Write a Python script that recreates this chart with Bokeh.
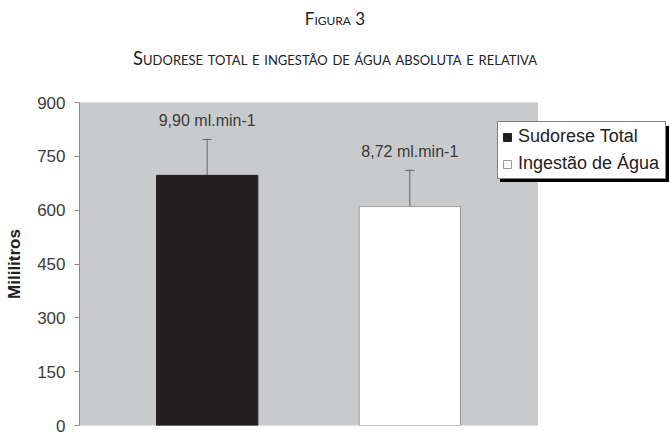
from bokeh.plotting import figure
from bokeh.models import (ColumnDataSource, FixedTicker, Whisker, TeeHead,
                          Legend, LegendItem, Div, BoxAnnotation, Range1d)
from bokeh.layouts import column
from bokeh.core.properties import value
from bokeh.embed import file_html
from bokeh.resources import INLINE

# ---- data ----
categories = ["Sudorese Total", "Ingestão de Água"]
values = [697, 610]
errors = [100, 101]
rates = ["9,90 ml.min-1", "8,72 ml.min-1"]
y_ticks = [0, 150, 300, 450, 600, 750, 900]
fig_title = "Figura 3"
fig_subtitle = "Sudorese total e ingestão de água absoluta e relativa"
y_label = "Mililitros"

fills = ["#231f20", "#ffffff"]
outlines = ["#231f20", "#9a9a9a"]

# ---- layout constants ----
FRAME_L, FRAME_R = 79, 670          # frame in page pixels
AREA_PX = 458                        # width of grey plot area in px
bar_w, gap_out = 1.0, 0.76
xs = [2 * i + 1 for i in range(len(categories))]
area_left = xs[0] - bar_w / 2 - gap_out
area_right = xs[-1] + bar_w / 2 + gap_out
px_per_unit = AREA_PX / (area_right - area_left)
x_end = area_left + (FRAME_R - FRAME_L) / px_per_unit

upper = [v + e for v, e in zip(values, errors)]
src = ColumnDataSource(dict(x=xs, top=values, upper=upper, label=rates))

head = Div(text=(
    '<div style="width:670px;text-align:center;font-family:Lato;font-variant:small-caps;color:#222;padding-top:8px;">'
    f'<div style="font-size:17px;line-height:22px;">{fig_title}</div>'
    f'<div style="font-size:18.5px;line-height:20px;margin-top:18px;">{fig_subtitle}</div>'
    '</div>'), width=670, height=88, margin=0)

p = figure(width=FRAME_R, height=348, x_range=Range1d(area_left, x_end),
           y_range=Range1d(0, 900), output_backend="svg", toolbar_location=None,
           min_border_left=FRAME_L, min_border_right=0, min_border_top=14,
           min_border_bottom=11, margin=0)

p.background_fill_color = "white"
p.border_fill_color = "white"
p.outline_line_color = None
p.xgrid.visible = False
p.ygrid.visible = False
p.xaxis.visible = False

area = BoxAnnotation(left=area_left, right=area_right, bottom=0, top=900,
                     fill_color="#c9cacc", fill_alpha=1.0,
                     line_color="#9c9c9c", line_width=1, level="underlay")
p.add_layout(area)

ya = p.yaxis[0]
ya.ticker = FixedTicker(ticks=y_ticks)
ya.minor_tick_line_color = None
ya.major_tick_in = 0
ya.major_tick_out = 5
ya.major_tick_line_color = "#8a8a8a"
ya.axis_line_color = "#8a8a8a"
ya.major_label_text_font = "Liberation Sans"
ya.major_label_text_font_size = "17px"
ya.major_label_text_color = "#3c3c3c"
ya.major_label_standoff = 9
ya.axis_label = y_label
ya.axis_label_text_font = "Liberation Sans"
ya.axis_label_text_font_size = "17px"
ya.axis_label_text_font_style = "bold"
ya.axis_label_text_color = "#222222"
ya.axis_label_standoff = 10

renderers = []
for i, c in enumerate(categories):
    s = ColumnDataSource(dict(x=[xs[i]], top=[values[i]]))
    r = p.vbar(x="x", top="top", width=bar_w, source=s, fill_color=fills[i],
               line_color=outlines[i], line_width=1)
    renderers.append(r)

wh = Whisker(source=src, base="x", upper="upper", lower="top", lower_head=None,
             upper_head=TeeHead(size=9, line_color="#666666", line_width=1),
             line_color="#666666", line_width=1)
p.add_layout(wh)

p.text(x="x", y="upper", text="label", source=src, text_align="center",
       text_baseline="middle", y_offset=-19, text_font=value("Liberation Sans"),
       text_font_size="16px", text_color="#3a3a3a")

LABEL_W = 143
def make_legend(loc, shadow):
    items = [LegendItem(label=(" " if shadow else c), renderers=[r])
             for c, r in zip(categories, renderers)]
    lg = Legend(items=items, location=loc, orientation="vertical",
                label_text_font="Liberation Sans", label_text_font_size="18px",
                label_text_color="#222222", label_text_alpha=0.0 if shadow else 1.0,
                glyph_width=10, glyph_height=10, label_height=20, label_width=LABEL_W,
                label_standoff=6, spacing=6, padding=4, margin=0,
                background_fill_color="#000000" if shadow else "#ffffff",
                background_fill_alpha=1.0,
                border_line_color="#000000", border_line_width=1)
    return lg

p.add_layout(make_legend((421, 243), True))
p.add_layout(make_legend((418, 246), False))

layout = column(head, p)
open("out.html", "w").write(file_html(layout, INLINE))
